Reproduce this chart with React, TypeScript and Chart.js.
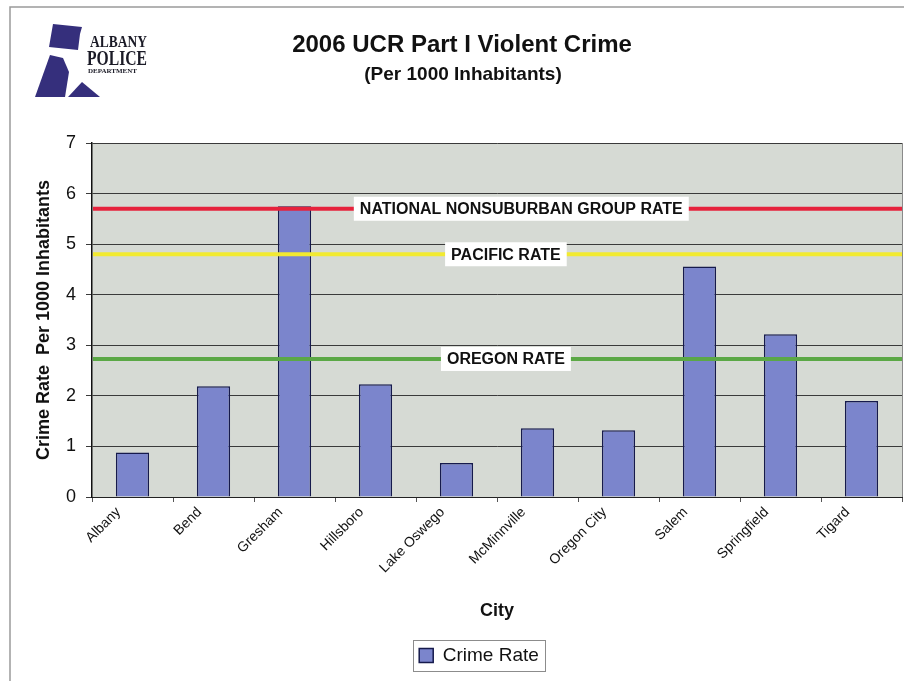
import React, { useEffect, useRef } from "react";
import { Chart, registerables } from "chart.js";

Chart.register(...registerables);

const cities = [
  "Albany",
  "Bend",
  "Gresham",
  "Hillsboro",
  "Lake Oswego",
  "McMinnville",
  "Oregon City",
  "Salem",
  "Springfield",
  "Tigard",
];
const crimeRate = [0.88, 2.19, 5.75, 2.23, 0.67, 1.36, 1.32, 4.56, 3.22, 1.9];

const refLabels = ["NATIONAL NONSUBURBAN GROUP RATE", "PACIFIC RATE", "OREGON RATE"];
const refValues = [5.7, 4.8, 2.73];
const refColors = ["#e6223c", "#f2ea30", "#5ba846"];
const refLabelPos = [0.53, 0.511, 0.511];

const titleText = "2006 UCR Part I Violent Crime";
const subtitleText = "(Per 1000 Inhabitants)";
const yTitle = "Crime Rate  Per 1000 Inhabitants";
const xTitle = "City";
const seriesName = "Crime Rate";

const W = 904;
const H = 681;
const PLOT_BOTTOM = 497;
const PAD_BOTTOM = 6;
const LEGEND_SHIFT = 28;
const FONT = "'Liberation Sans', Arial, sans-serif";

const BAR_FILL = "#7b85cc";
const BAR_EDGE = "#161a4c";
const PLOT_BG = "#d6dad4";

const decorPlugin = {
  id: "decor",
  afterLayout(chart: any) {
    const lg = chart.legend;
    if (lg) {
      lg.left += LEGEND_SHIFT;
      lg.right += LEGEND_SHIFT;
    }
  },
  beforeDraw(chart: any) {
    const { ctx, chartArea } = chart;
    ctx.save();
    ctx.fillStyle = "#ffffff";
    ctx.fillRect(0, 0, W, H);
    // page border
    ctx.strokeStyle = "#9a9a9a";
    ctx.lineWidth = 1.5;
    ctx.beginPath();
    ctx.moveTo(10, H);
    ctx.lineTo(10, 7);
    ctx.lineTo(W, 7);
    ctx.stroke();
    // plot background
    ctx.fillStyle = PLOT_BG;
    ctx.fillRect(chartArea.left, chartArea.top, chartArea.right - chartArea.left, chartArea.bottom - chartArea.top);
    ctx.strokeStyle = "#8a8a8a";
    ctx.lineWidth = 1;
    ctx.beginPath();
    ctx.moveTo(chartArea.right + 0.5, chartArea.top);
    ctx.lineTo(chartArea.right + 0.5, chartArea.bottom);
    ctx.stroke();

    // logo shapes
    ctx.fillStyle = "#352f7c";
    const poly = (pts: number[][]) => {
      ctx.beginPath();
      ctx.moveTo(pts[0][0], pts[0][1]);
      for (let i = 1; i < pts.length; i++) ctx.lineTo(pts[i][0], pts[i][1]);
      ctx.closePath();
      ctx.fill();
    };
    poly([[53, 24], [82, 27], [80, 34], [78, 50], [49, 47]]);
    poly([[50, 55], [63, 58], [69, 72], [65, 97], [35, 97]]);
    poly([[68, 97], [82, 82], [100, 97]]);
    // logo text
    ctx.fillStyle = "#1a1a26";
    ctx.textAlign = "left";
    ctx.textBaseline = "alphabetic";
    ctx.font = "bold 17px 'Liberation Serif', serif";
    ctx.fillText("ALBANY", 90, 47, 57);
    ctx.font = "bold 22px 'Liberation Serif', serif";
    ctx.fillText("POLICE", 87, 65, 60);
    ctx.font = "bold 7px 'Liberation Serif', serif";
    ctx.fillText("DEPARTMENT", 88, 73, 59);

    // titles
    ctx.fillStyle = "#111111";
    ctx.textAlign = "center";
    ctx.textBaseline = "middle";
    ctx.font = `bold 24px ${FONT}`;
    ctx.fillText(titleText, 462, 45);
    ctx.font = `bold 19px ${FONT}`;
    ctx.fillText(subtitleText, 463, 75);
    ctx.restore();
  },
  afterDatasetsDraw(chart: any) {
    const { ctx, chartArea, scales } = chart;
    const y = scales.y;
    ctx.save();
    ctx.font = `bold 16px ${FONT}`;
    ctx.textAlign = "center";
    ctx.textBaseline = "middle";
    refValues.forEach((v, i) => {
      const py = y.getPixelForValue(v);
      ctx.strokeStyle = refColors[i];
      ctx.lineWidth = 4;
      ctx.beginPath();
      ctx.moveTo(chartArea.left + 1, py);
      ctx.lineTo(chartArea.right, py);
      ctx.stroke();
      const cx = chartArea.left + refLabelPos[i] * (chartArea.right - chartArea.left);
      const tw = ctx.measureText(refLabels[i]).width;
      ctx.fillStyle = "#ffffff";
      ctx.fillRect(cx - tw / 2 - 6, py - 12, tw + 12, 24);
      ctx.fillStyle = "#111111";
      ctx.fillText(refLabels[i], cx, py + 1);
    });
    ctx.restore();
  },
  afterDraw(chart: any) {
    const lg = chart.legend;
    if (!lg || !lg.legendHitBoxes || !lg.legendHitBoxes.length) return;
    const hb = lg.legendHitBoxes[0];
    const { ctx } = chart;
    ctx.save();
    ctx.strokeStyle = "#8c8c8c";
    ctx.lineWidth = 1;
    ctx.strokeRect(Math.round(hb.left - 6) + 0.5, Math.round(hb.top - 6) + 0.5, Math.round(hb.width + 12), Math.round(hb.height + 12));
    ctx.restore();
  },
};

export default function App() {
  const ref = useRef<HTMLCanvasElement | null>(null);
  useEffect(() => {
    if (!ref.current) return;
    const chart = new Chart(ref.current, {
      type: "bar",
      data: {
        labels: cities,
        datasets: [
          {
            label: seriesName,
            data: crimeRate,
            backgroundColor: BAR_FILL,
            borderColor: BAR_EDGE,
            borderWidth: 1.5,
            categoryPercentage: 1,
            barPercentage: 0.41,
          },
        ],
      },
      options: {
        responsive: false,
        animation: false,
        layout: { padding: { top: 143, left: 0, right: 2, bottom: PAD_BOTTOM } },
        plugins: {
          title: { display: false },
          tooltip: { enabled: false },
          legend: {
            display: true,
            position: "bottom",
            labels: {
              color: "#111111",
              font: { family: FONT, size: 19 },
              boxWidth: 14,
              boxHeight: 14,
              padding: 10,
            },
          },
        },
        scales: {
          x: {
            type: "category",
            grid: {
              display: true,
              drawOnChartArea: false,
              drawTicks: true,
              tickLength: 5,
              color: "#555555",
              offset: true,
            },
            border: { color: "#222222", width: 1 },
            ticks: {
              color: "#111111",
              font: { family: FONT, size: 14 },
              minRotation: 45,
              maxRotation: 45,
              labelOffset: -14,
              padding: 2,
              autoSkip: false,
            },
            title: {
              display: true,
              text: xTitle,
              color: "#111111",
              font: { family: FONT, size: 18, weight: "bold" },
              padding: { top: 4, bottom: 14 },
            },
            afterFit: (s: any) => {
              const lg = s.chart.legend;
              const lh = lg ? lg.height : 0;
              s.height = H - PLOT_BOTTOM - lh - PAD_BOTTOM;
            },
          },
          y: {
            min: 0,
            max: 7,
            ticks: {
              stepSize: 1,
              color: "#111111",
              font: { family: FONT, size: 18 },
              padding: 10,
            },
            grid: { color: "#3a3a3a", lineWidth: 1, tickLength: 6, drawTicks: true },
            border: { color: "#111111", width: 1.5 },
            title: {
              display: true,
              text: yTitle,
              color: "#111111",
              font: { family: FONT, size: 18, weight: "bold" },
              padding: { top: 33, bottom: 0 },
            },
            afterFit: (s: any) => {
              s.width = 92;
            },
          },
        },
      },
      plugins: [decorPlugin],
    } as any);
    return () => chart.destroy();
  }, []);
  return (
    <div style={{ position: "absolute", left: 0, top: 0, width: W, height: H, background: "#fff" }}>
      <canvas ref={ref} width={W} height={H} style={{ display: "block" }} />
    </div>
  );
}
